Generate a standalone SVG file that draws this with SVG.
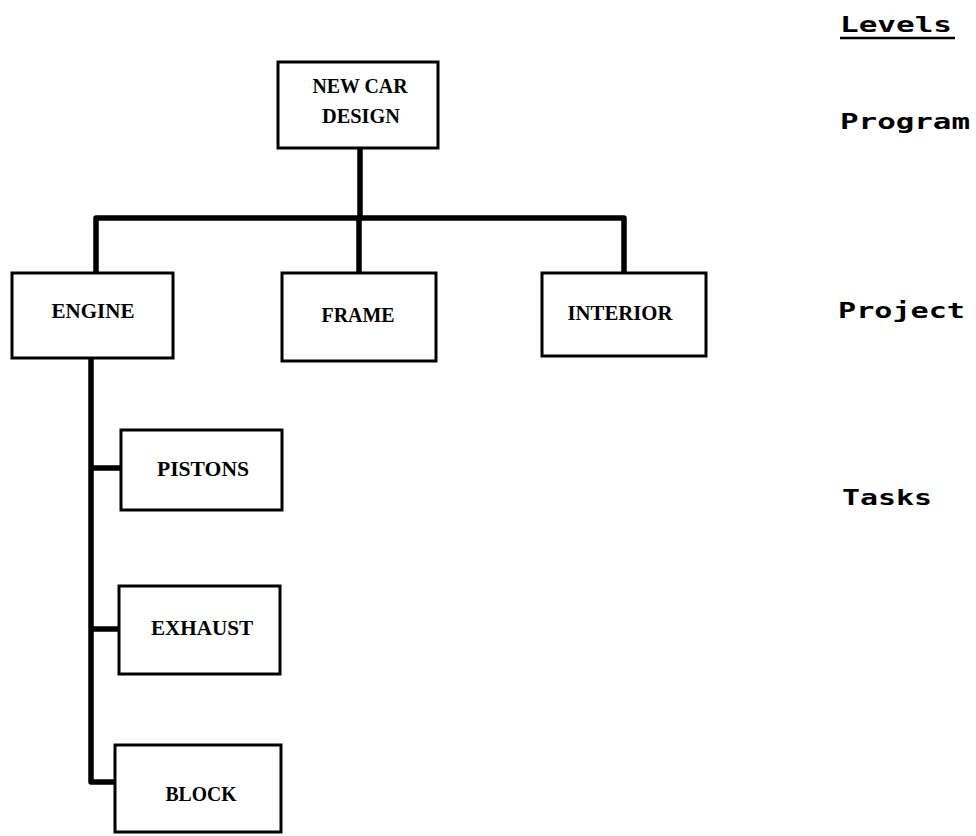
<svg xmlns="http://www.w3.org/2000/svg" width="976" height="836" viewBox="0 0 976 836">
  <style>
    .box { fill: #ffffff; stroke: #000000; stroke-width: 3; }
    .wire { fill: none; stroke: #000000; stroke-width: 5.5; stroke-linejoin: round; stroke-linecap: butt; }
    .label { font-family: "Liberation Serif", "Times New Roman", serif; font-weight: bold; font-size: 22px; fill: #000000; text-anchor: middle; }
    .level { font-family: "DejaVu Sans Mono", "Liberation Mono", monospace; font-weight: bold; font-size: 22px; fill: #000000; }
  </style>
  <rect width="976" height="836" fill="#ffffff"/>

  <!-- connectors -->
  <g id="connectors">
    <path class="wire" d="M360,148 V218"/>
    <path class="wire" d="M96,273 V218 H624 V273"/>
    <path class="wire" d="M359,218 V273"/>
    <path class="wire" d="M91,358 V782 H115"/>
    <path class="wire" d="M91,468 H121"/>
    <path class="wire" d="M91,629 H119"/>
  </g>

  <!-- program level -->
  <g id="new-car-design">
    <rect class="box" x="278" y="62" width="160" height="86"/>
    <text class="label" x="360" y="93" textLength="95" lengthAdjust="spacingAndGlyphs">NEW CAR</text>
    <text class="label" x="361" y="123" textLength="78" lengthAdjust="spacingAndGlyphs">DESIGN</text>
  </g>

  <!-- project level -->
  <g id="engine">
    <rect class="box" x="12" y="273" width="161" height="85"/>
    <text class="label" x="93" y="318" textLength="83" lengthAdjust="spacingAndGlyphs">ENGINE</text>
  </g>
  <g id="frame">
    <rect class="box" x="282" y="273" width="154" height="88"/>
    <text class="label" x="358" y="322" textLength="73" lengthAdjust="spacingAndGlyphs">FRAME</text>
  </g>
  <g id="interior">
    <rect class="box" x="542" y="273" width="164" height="83"/>
    <text class="label" x="620" y="320" textLength="105" lengthAdjust="spacingAndGlyphs">INTERIOR</text>
  </g>

  <!-- task level -->
  <g id="pistons">
    <rect class="box" x="121" y="430" width="161" height="80"/>
    <text class="label" x="203" y="476" textLength="92" lengthAdjust="spacingAndGlyphs">PISTONS</text>
  </g>
  <g id="exhaust">
    <rect class="box" x="119" y="586" width="161" height="88"/>
    <text class="label" x="202" y="635" textLength="102" lengthAdjust="spacingAndGlyphs">EXHAUST</text>
  </g>
  <g id="block">
    <rect class="box" x="115" y="745" width="166" height="87"/>
    <text class="label" x="201" y="801" textLength="71" lengthAdjust="spacingAndGlyphs">BLOCK</text>
  </g>

  <!-- level legend -->
  <g id="levels">
    <text class="level" x="840" y="32" textLength="112" lengthAdjust="spacingAndGlyphs">Levels</text>
    <line x1="840" y1="38" x2="955" y2="38" stroke="#000000" stroke-width="2.5"/>
    <text class="level" x="840" y="129" textLength="130" lengthAdjust="spacingAndGlyphs">Program</text>
    <text class="level" x="838" y="318" textLength="127" lengthAdjust="spacingAndGlyphs">Project</text>
    <text class="level" x="842" y="505" textLength="90" lengthAdjust="spacingAndGlyphs">Tasks</text>
  </g>
</svg>
